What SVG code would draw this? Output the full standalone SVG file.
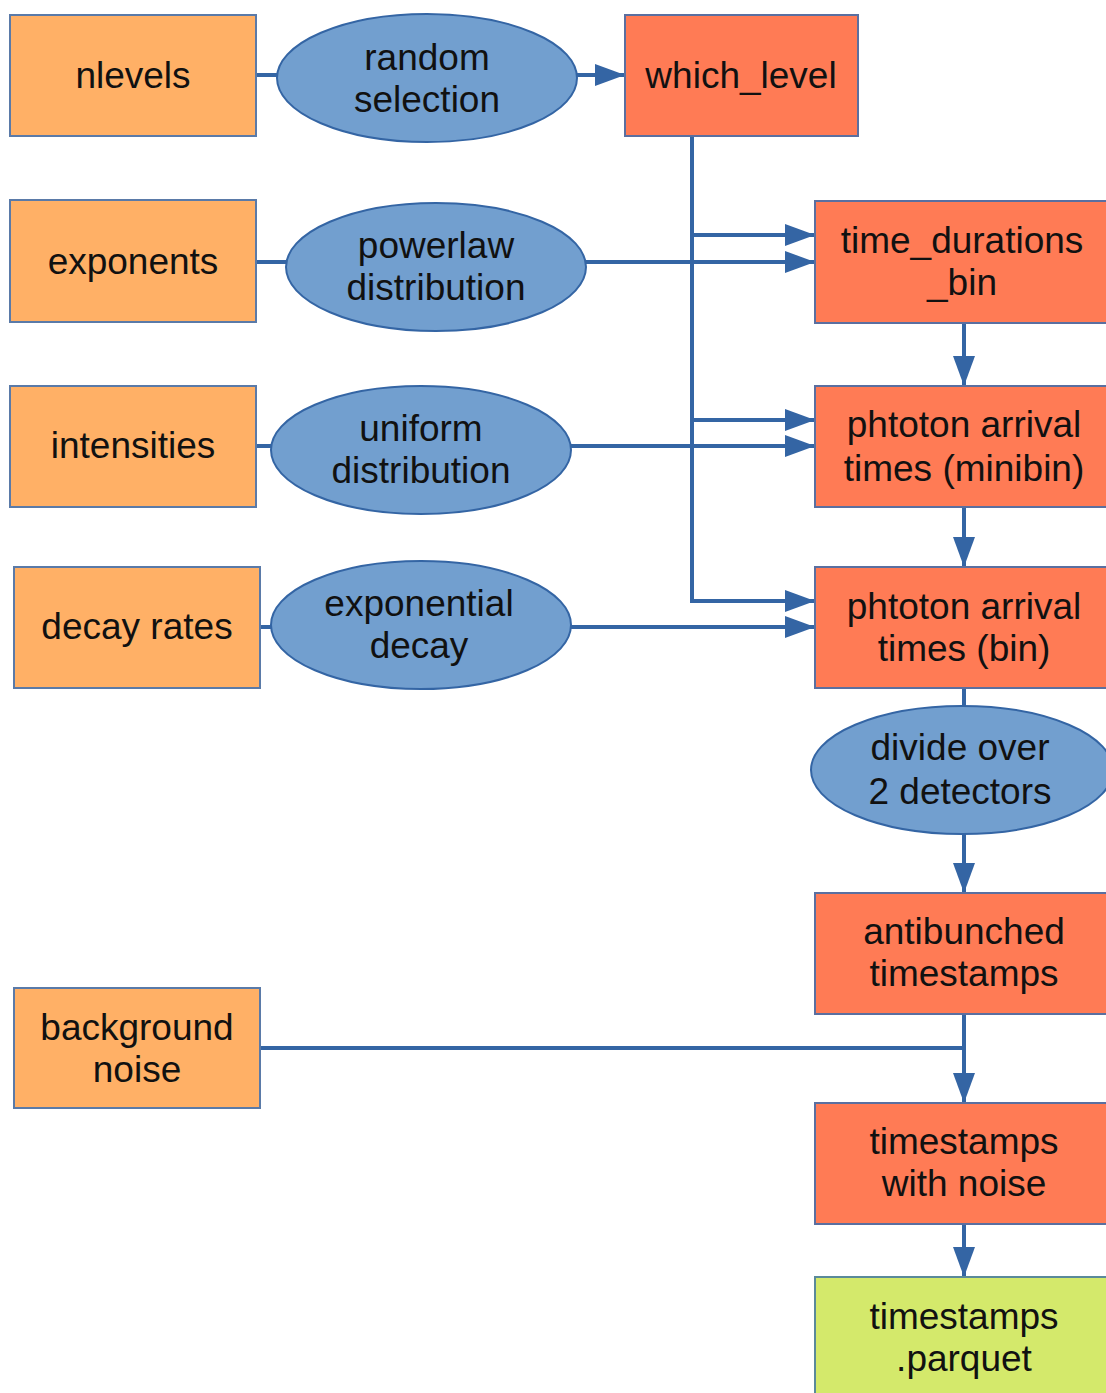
<svg xmlns="http://www.w3.org/2000/svg" width="1106" height="1393" viewBox="0 0 1106 1393">
<style>
.in{fill:#ffb066;stroke:#5a7aa8;stroke-width:2}
.pr{fill:#ff7b55;stroke:#5a6fa0;stroke-width:2}
.out{fill:#d4e96b;stroke:#5a8a9a;stroke-width:2}
.op{fill:#729fcf;stroke:#3465a4;stroke-width:2}
.e{fill:none;stroke:#3465a4;stroke-width:4}
text{font-family:"Liberation Sans",Arial,sans-serif;font-size:37px;fill:#111;text-anchor:middle}
</style>
<defs>
<marker id="ah" markerUnits="userSpaceOnUse" markerWidth="32" markerHeight="24" refX="30" refY="11" orient="auto">
<path d="M0,0 L30,11 L0,22 Z" fill="#3465a4"/>
</marker>
</defs>
<g id="connectors">
<path class="e" d="M256,75 H277"/>
<path class="e" d="M577,75 H625" marker-end="url(#ah)"/>
<path class="e" d="M692,136 V601 H815" marker-end="url(#ah)"/>
<path class="e" d="M692,235 H815" marker-end="url(#ah)"/>
<path class="e" d="M692,420 H815" marker-end="url(#ah)"/>
<path class="e" d="M256,262 H287"/>
<path class="e" d="M586,262 H815" marker-end="url(#ah)"/>
<path class="e" d="M256,446 H271"/>
<path class="e" d="M571,446 H815" marker-end="url(#ah)"/>
<path class="e" d="M260,627 H271"/>
<path class="e" d="M571,627 H815" marker-end="url(#ah)"/>
<path class="e" d="M964,323 V386" marker-end="url(#ah)"/>
<path class="e" d="M964,507 V567" marker-end="url(#ah)"/>
<path class="e" d="M964,688 V706"/>
<path class="e" d="M964,834 V893" marker-end="url(#ah)"/>
<path class="e" d="M964,1014 V1103" marker-end="url(#ah)"/>
<path class="e" d="M260,1048 H964"/>
<path class="e" d="M964,1224 V1277" marker-end="url(#ah)"/>
</g>
<g id="nlevels"><rect class="in" x="10" y="15" width="246" height="121"/><text x="133" y="88">nlevels</text></g>
<g id="exponents"><rect class="in" x="10" y="200" width="246" height="122"/><text x="133" y="274">exponents</text></g>
<g id="intensities"><rect class="in" x="10" y="386" width="246" height="121"/><text x="133" y="458">intensities</text></g>
<g id="decay_rates"><rect class="in" x="14" y="567" width="246" height="121"/><text x="137" y="639">decay rates</text></g>
<g id="background_noise"><rect class="in" x="14" y="988" width="246" height="120"/><text x="137" y="1040">background</text><text x="137" y="1082">noise</text></g>
<g id="random_selection"><ellipse class="op" cx="427" cy="78" rx="150" ry="64"/><text x="427" y="70">random</text><text x="427" y="112">selection</text></g>
<g id="powerlaw"><ellipse class="op" cx="436" cy="267" rx="150" ry="64"/><text x="436" y="258">powerlaw</text><text x="436" y="300">distribution</text></g>
<g id="uniform"><ellipse class="op" cx="421" cy="450" rx="150" ry="64"/><text x="421" y="441">uniform</text><text x="421" y="483">distribution</text></g>
<g id="exponential"><ellipse class="op" cx="421" cy="625" rx="150" ry="64"/><text x="419" y="616">exponential</text><text x="419" y="658">decay</text></g>
<g id="which_level"><rect class="pr" x="625" y="15" width="233" height="121"/><text x="741" y="88">which_level</text></g>
<g id="time_durations_bin"><rect class="pr" x="815" y="201" width="298" height="122"/><text x="962" y="253">time_durations</text><text x="962" y="295">_bin</text></g>
<g id="arrival_minibin"><rect class="pr" x="815" y="386" width="298" height="121"/><text x="964" y="437">phtoton arrival</text><text x="964" y="481">times (minibin)</text></g>
<g id="arrival_bin"><rect class="pr" x="815" y="567" width="298" height="121"/><text x="964" y="619">phtoton arrival</text><text x="964" y="661">times (bin)</text></g>
<g id="divide"><ellipse class="op" cx="962" cy="770" rx="151" ry="64"/><text x="960" y="760">divide over</text><text x="960" y="804">2 detectors</text></g>
<g id="antibunched"><rect class="pr" x="815" y="893" width="298" height="121"/><text x="964" y="944">antibunched</text><text x="964" y="986">timestamps</text></g>
<g id="with_noise"><rect class="pr" x="815" y="1103" width="298" height="121"/><text x="964" y="1154">timestamps</text><text x="964" y="1196">with noise</text></g>
<g id="parquet"><rect class="out" x="815" y="1277" width="298" height="130"/><text x="964" y="1329">timestamps</text><text x="964" y="1371">.parquet</text></g>
</svg>
